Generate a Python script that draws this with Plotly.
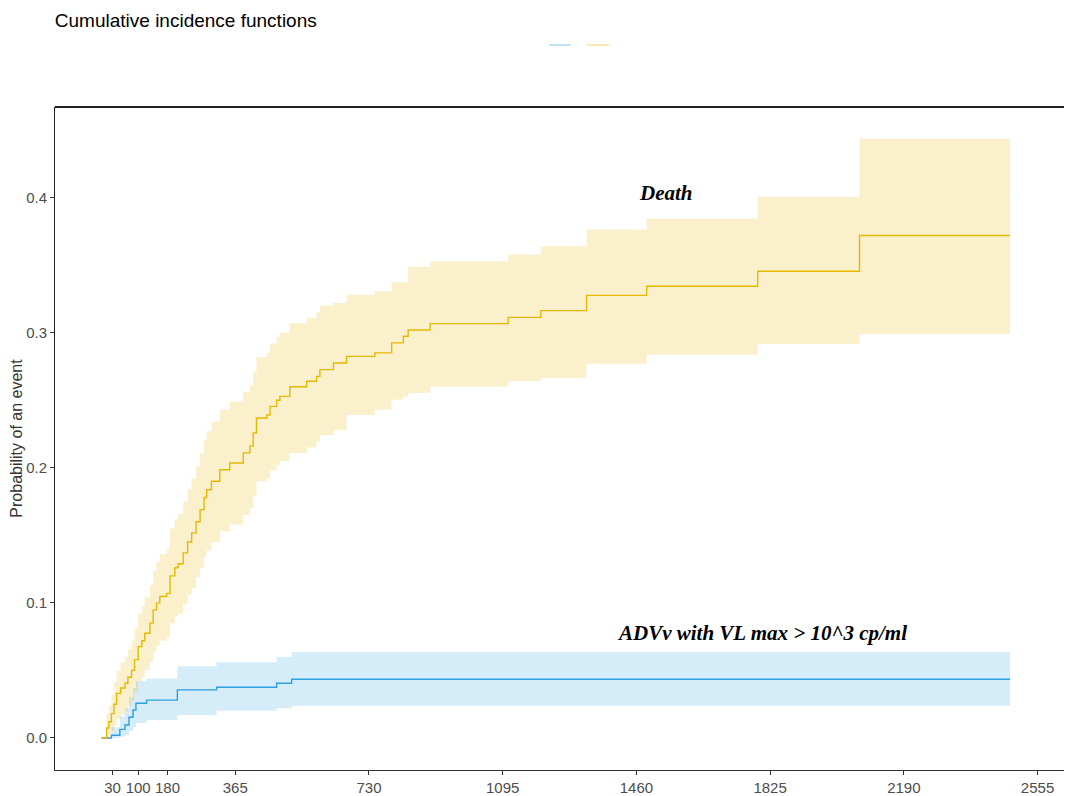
import plotly.graph_objects as go

# ---- Data: cumulative incidence (step functions) ----
death_days = [0, 14, 20, 27, 34, 41, 52, 64, 72, 82, 90, 100, 110, 118, 132, 141, 150, 159,
              178, 187, 200, 209, 223, 235, 246, 258, 269, 280, 287, 300, 323, 350, 387, 405,
              414, 423, 451, 460, 478, 487, 514, 560, 587, 596, 633, 669, 746, 792, 824, 837,
              897, 1110, 1199, 1324, 1488, 1791, 2069, 2480]
death_est = [0, 0.0074, 0.012, 0.018, 0.025, 0.033, 0.037, 0.0405, 0.045, 0.050, 0.058, 0.0676,
             0.072, 0.0775, 0.085, 0.0948, 0.100, 0.1047, 0.107, 0.120, 0.126, 0.129, 0.137,
             0.145, 0.1516, 0.160, 0.169, 0.178, 0.1837, 0.190, 0.1985, 0.2035, 0.211, 0.216,
             0.2257, 0.2368, 0.239, 0.2454, 0.250, 0.2528, 0.260, 0.264, 0.2676, 0.2726, 0.2775,
             0.2824, 0.285, 0.2924, 0.2973, 0.302, 0.3067, 0.3113, 0.3163, 0.3276, 0.3343,
             0.3454, 0.3719, 0.3719]
death_low = [0, 0, 0.002, 0.005, 0.009, 0.014, 0.017, 0.020, 0.024, 0.028, 0.034, 0.042, 0.045,
             0.050, 0.056, 0.064, 0.068, 0.072, 0.074, 0.085, 0.090, 0.092, 0.099, 0.106, 0.111,
             0.119, 0.126, 0.134, 0.139, 0.145, 0.153, 0.158, 0.165, 0.170, 0.179, 0.190, 0.192,
             0.198, 0.202, 0.205, 0.211, 0.215, 0.219, 0.224, 0.228, 0.239, 0.243, 0.2504,
             0.2528, 0.2553, 0.260, 0.264, 0.2665, 0.277, 0.2837, 0.2916, 0.299, 0.299]
death_up = [0, 0.018, 0.024, 0.032, 0.041, 0.050, 0.056, 0.060, 0.066, 0.072, 0.081, 0.092,
            0.098, 0.104, 0.113, 0.124, 0.130, 0.136, 0.140, 0.155, 0.162, 0.166, 0.175, 0.184,
            0.192, 0.201, 0.211, 0.221, 0.227, 0.234, 0.243, 0.249, 0.256, 0.261, 0.271, 0.282,
            0.285, 0.292, 0.297, 0.300, 0.307, 0.311, 0.315, 0.320, 0.322, 0.328, 0.3306,
            0.3373, 0.3373, 0.3487, 0.3528, 0.3578, 0.364, 0.3763, 0.3844, 0.4005, 0.4437, 0.4437]

adv_days = [0, 27, 50, 64, 75, 86, 94, 123, 207, 314, 478, 519, 2480]
adv_est = [0, 0.002, 0.0064, 0.0096, 0.0153, 0.0207, 0.0257, 0.028, 0.0356, 0.0375, 0.0405,
           0.0435, 0.0435]
adv_low = [0, 0, 0.001, 0.002, 0.005, 0.008, 0.011, 0.0133, 0.017, 0.0202, 0.022, 0.0239, 0.0239]
adv_up = [0, 0.008, 0.016, 0.022, 0.030, 0.037, 0.042, 0.044, 0.053, 0.056, 0.060, 0.0637, 0.0637]

x_ticks = [30, 100, 180, 365, 730, 1095, 1460, 1825, 2190, 2555]
y_ticks = [0.0, 0.1, 0.2, 0.3, 0.4]

BLUE = "#2E9FDF"
YELLOW = "#E7B800"

fig = go.Figure()

def add_band(days, low, up, fillcol):
    fig.add_trace(go.Scatter(x=days, y=low, mode="lines", line=dict(width=0, shape="hv"),
                             showlegend=False, hoverinfo="skip"))
    fig.add_trace(go.Scatter(x=days, y=up, mode="lines", line=dict(width=0, shape="hv"),
                             fill="tonexty", fillcolor=fillcol, showlegend=False, hoverinfo="skip"))

add_band(adv_days, adv_low, adv_up, "rgba(46,159,223,0.2)")
add_band(death_days, death_low, death_up, "rgba(231,184,0,0.2)")

fig.add_trace(go.Scatter(x=adv_days, y=adv_est, mode="lines",
                         line=dict(color=BLUE, width=1.4, shape="hv"),
                         name="ADVv", showlegend=False))
fig.add_trace(go.Scatter(x=death_days, y=death_est, mode="lines",
                         line=dict(color=YELLOW, width=1.4, shape="hv"),
                         name="Death", showlegend=False))

# Legend keys (faint, no text) as in the reference
fig.add_shape(type="line", xref="paper", yref="paper", x0=0.486, x1=0.507, y0=1.0935, y1=1.0935,
              line=dict(color="rgba(46,159,223,0.3)", width=2))
fig.add_shape(type="line", xref="paper", yref="paper", x0=0.523, x1=0.545, y0=1.0935, y1=1.0935,
              line=dict(color="rgba(231,184,0,0.3)", width=2))
# top border line
fig.add_shape(type="line", xref="paper", yref="paper", x0=0, x1=1, y0=1, y1=1,
              line=dict(color="#222222", width=2))

serif = "Liberation Serif, Times New Roman, serif"
fig.add_annotation(x=1541, y=0.4037, text="<b><i>Death</i></b>", showarrow=False,
                   font=dict(family=serif, size=21, color="black"))
fig.add_annotation(x=1803, y=0.0778, text="<b><i>ADVv with VL max &gt; 10^3 cp/ml</i></b>",
                   showarrow=False, font=dict(family=serif, size=21, color="black"))

fig.update_layout(
    width=1064, height=788,
    margin=dict(l=47, r=0, t=99, b=26, autoexpand=False),
    paper_bgcolor="white", plot_bgcolor="white",
    font=dict(family="Liberation Sans, Arial, sans-serif", color="#4d4d4d", size=14),
    title=dict(text="Cumulative incidence functions", x=0.044, xanchor="left",
               y=0.9845, yanchor="middle", font=dict(size=19, color="black")),
    showlegend=False,
)
fig.update_xaxes(range=[-127, 2649], tickvals=x_ticks, ticktext=[str(v) for v in x_ticks],
                 showgrid=False, zeroline=False, showline=True, linecolor="#333333",
                 linewidth=1, ticks="outside", ticklen=4, tickcolor="#333333",
                 tickfont=dict(size=15, color="#4d4d4d"))
fig.update_yaxes(range=[-0.0237, 0.467], tickvals=y_ticks, ticktext=[f"{v:.1f}" for v in y_ticks],
                 showgrid=False, zeroline=False, showline=True, linecolor="#222222",
                 linewidth=1, ticks="outside", ticklen=4, tickcolor="#333333",
                 tickfont=dict(size=15, color="#4d4d4d"),
                 title=dict(text="Probability of an event", standoff=4,
                            font=dict(size=16, color="#333333")))

fig.write_html("out.html")
